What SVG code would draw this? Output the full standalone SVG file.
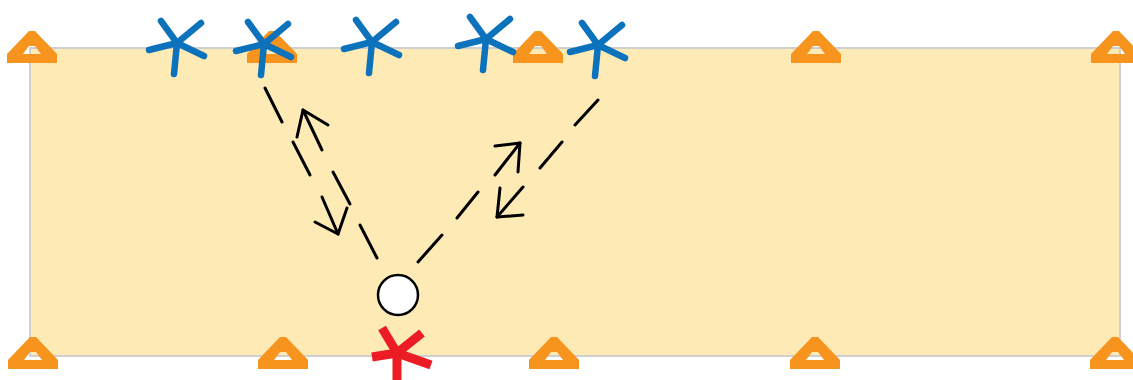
<svg xmlns="http://www.w3.org/2000/svg" width="1133" height="380" viewBox="0 0 1133 380">
<defs>
<style>
.area{fill:#fdeab4;stroke:#cfcfcf;stroke-width:2}
.tri{fill:#f7941d;fill-rule:evenodd}
.blue{fill:none;stroke:#0b72bb;stroke-width:6.5;stroke-linecap:round;stroke-linejoin:round}
.red{fill:none;stroke:#ec1c24;stroke-width:9;stroke-linecap:butt;stroke-linejoin:round}
.ln{fill:none;stroke:#000;stroke-width:3;stroke-linecap:round;stroke-linejoin:round}
.node{fill:#fff;stroke:#000;stroke-width:2.5}
</style>
<path id="tri" d="M-25,0 L25,0 L25,-9 L3,-32 L-3,-32 L-25,-9 Z M-9,-9 L9,-9 L3,-17 L-3,-17 Z"/>
<path id="ast" d="M-28,7 L0,0 L27,13 M-16,-22 L0,0 L24,-20 M0,0 L-3,31"/>
</defs>
<rect id="area" class="area" x="30" y="48" width="1090" height="308"/>
<g id="supports-top">
<use href="#tri" class="tri" x="32" y="63"/>
<use href="#tri" class="tri" x="272" y="63"/>
<use href="#tri" class="tri" x="538" y="63"/>
<use href="#tri" class="tri" x="816" y="63"/>
<use href="#tri" class="tri" x="1116" y="63"/>
</g>
<g id="supports-bottom">
<use href="#tri" class="tri" x="33" y="369"/>
<use href="#tri" class="tri" x="283" y="369"/>
<use href="#tri" class="tri" x="554" y="369"/>
<use href="#tri" class="tri" x="815" y="369"/>
<use href="#tri" class="tri" x="1115" y="369"/>
</g>
<g id="stars">
<use href="#ast" class="blue" x="177" y="43"/>
<use href="#ast" class="blue" x="264" y="44"/>
<use href="#ast" class="blue" x="372" y="42"/>
<use href="#ast" class="blue" x="486" y="39"/>
<use href="#ast" class="blue" x="598" y="45"/>
</g>
<g id="source">
<path class="red" d="M372,357 L397,353 L431,365 M382,328 L397,353 L422,333 M397,353 L397,380"/>
</g>
<g id="receiver">
<circle class="node" cx="398" cy="295" r="20"/>
</g>
<g id="connectors">
<path class="ln" d="M265,88 L282,122 M360,225 L377,258"/>
<path class="ln" d="M598,100 L575,125 M562,142 L540,168 M478,192 L457,218 M442,235 L418,262"/>
<path class="ln" d="M303,110 L322,150 M333,172 L350,204"/>
<path class="ln" d="M297,137 L303,110 L328,125"/>
<path class="ln" d="M293,142 L310,175 M322,197 L338,234"/>
<path class="ln" d="M315,222 L338,234 L347,208"/>
<path class="ln" d="M495,175 L520,143"/>
<path class="ln" d="M495,146 L520,143 L518,172"/>
<path class="ln" d="M523,187 L497,217"/>
<path class="ln" d="M500,188 L497,217 L523,215"/>
</g>
</svg>
